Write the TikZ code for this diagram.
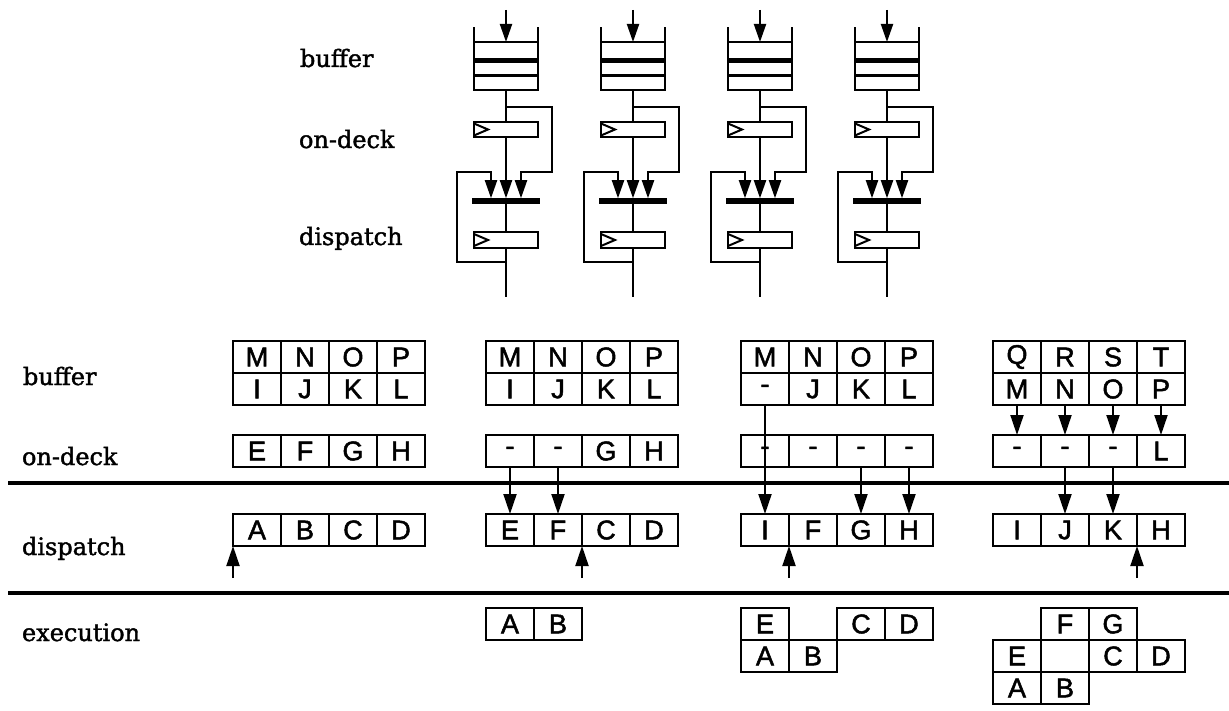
\documentclass[tikz,border=0pt]{standalone}
\usepackage{fontspec}
\setmainfont{DejaVu Serif}
\newfontfamily\labfont[FakeBold=1.6]{DejaVu Serif}
\newfontfamily\cellfont[FakeBold=1.8]{Liberation Sans}
\usetikzlibrary{positioning, arrows.meta, calc}

\begin{document}
\begin{tikzpicture}[
    x=1pt, y=-1pt,
    line width=2pt,
    node distance=0pt, % cells touch each other
    cell/.style={draw, minimum width=48pt, minimum height=32pt, inner sep=0pt,
                 outer sep=0pt, font=\cellfont\fontsize{27}{27}\selectfont},
    reg/.style={draw, minimum width=64pt, minimum height=15.5pt, inner sep=0pt, outer sep=0pt},
    slots/.style={draw, minimum width=64pt, minimum height=48pt, inner sep=0pt, outer sep=0pt},
    bar/.style={fill=black, minimum width=68pt, minimum height=5.5pt, inner sep=0pt, outer sep=0pt},
    lab/.style={anchor=base west, inner sep=0pt, font=\labfont\fontsize{24}{24}\selectfont},
    arr/.style={-{Triangle[length=18pt, width=12pt]}},
    bigarr/.style={-{Triangle[length=20pt, width=13pt]}}
]
    \useasboundingbox (0,0) rectangle (1229,711);

    % labels of the upper part
    \node[lab] (tbuf) at (299,67) {buffer};
    \node[lab] (tod) at (298,148) {on-deck};
    \node[lab] (tdp) at (298,245) {dispatch};

    % the four issue slots
    \foreach \c/\x in {1/506, 2/633, 3/760, 4/887} {
        \node[slots] (buf\c) at (\x,66) {};
        \draw (buf\c.north west) -- ++(0,-15) (buf\c.north east) -- ++(0,-15);
        \draw[line width=5pt] (\x-32,60.5) -- (\x+32,60.5);
        \draw[line width=3.5pt] (\x-32,75.5) -- (\x+32,75.5);
        \node[reg] (od\c) at (\x,129.5) {};
        \draw (od\c.west) ++(0,-6) -- ++(14,6) -- ++(-14,6);
        \node[bar] (bar\c) at (\x,201) {};
        \node[reg] (dp\c) at (\x,240) {};
        \draw (dp\c.west) ++(0,-6) -- ++(14,6) -- ++(-14,6);
        \coordinate (in\c) at (\x,10);
        \coordinate (fork\c) at (\x,107);
        \coordinate (back\c) at (\x,262);
        \coordinate (out\c) at (\x,297);
        \draw[arr] (in\c) -- (buf\c.north);
        \draw (buf\c.south) -- (od\c.north);
        \draw[arr] (od\c.south) -- (bar\c.north);
        \draw (bar\c.south) -- (dp\c.north);
        \draw (dp\c.south) -- (out\c);
        \draw[arr] (fork\c) -| ++(46,65) -| ([xshift=15pt]bar\c.north);
        \draw[arr] (back\c) -| ++(-49,-90) -| ([xshift=-15pt]bar\c.north);
    }

    % labels of the lower part
    \node[lab] (lbuf) at (22,385) {buffer};
    \node[lab] (lod) at (21,465) {on-deck};
    \node[lab] (ldp) at (21,555) {dispatch};
    \node[lab] (lex) at (21,641) {execution};

    % stage separators
    \coordinate (s1a) at (8,483);
    \coordinate (s1b) at (1229,483);
    \coordinate (s2a) at (8,593);
    \coordinate (s2b) at (1229,593);
    \draw[line width=4.5pt] (s1a) -- (s1b);
    \draw[line width=4.5pt] (s2a) -- (s2b);

    % cycle 1
    \node[cell] (bt1_1) at (257,357) {M};
    \node[cell] (bt1_2) [right=of bt1_1] {N};
    \node[cell] (bt1_3) [right=of bt1_2] {O};
    \node[cell] (bt1_4) [right=of bt1_3] {P};
    \node[cell] (bb1_1) [below=of bt1_1] {I};
    \node[cell] (bb1_2) [right=of bb1_1] {J};
    \node[cell] (bb1_3) [right=of bb1_2] {K};
    \node[cell] (bb1_4) [right=of bb1_3] {L};
    \node[cell] (od1_1) at (257,451) {E};
    \node[cell] (od1_2) [right=of od1_1] {F};
    \node[cell] (od1_3) [right=of od1_2] {G};
    \node[cell] (od1_4) [right=of od1_3] {H};
    \node[cell] (dp1_1) at (257,530) {A};
    \node[cell] (dp1_2) [right=of dp1_1] {B};
    \node[cell] (dp1_3) [right=of dp1_2] {C};
    \node[cell] (dp1_4) [right=of dp1_3] {D};
    \coordinate (up1) at ($(dp1_1.south west)+(0,32)$);
    \draw[bigarr] (up1) -- (dp1_1.south west);

    % cycle 2
    \node[cell] (bt2_1) at (510,357) {M};
    \node[cell] (bt2_2) [right=of bt2_1] {N};
    \node[cell] (bt2_3) [right=of bt2_2] {O};
    \node[cell] (bt2_4) [right=of bt2_3] {P};
    \node[cell] (bb2_1) [below=of bt2_1] {I};
    \node[cell] (bb2_2) [right=of bb2_1] {J};
    \node[cell] (bb2_3) [right=of bb2_2] {K};
    \node[cell] (bb2_4) [right=of bb2_3] {L};
    \node[cell] (od2_1) at (510,451) {-};
    \node[cell] (od2_2) [right=of od2_1] {-};
    \node[cell] (od2_3) [right=of od2_2] {G};
    \node[cell] (od2_4) [right=of od2_3] {H};
    \node[cell] (dp2_1) at (510,530) {E};
    \node[cell] (dp2_2) [right=of dp2_1] {F};
    \node[cell] (dp2_3) [right=of dp2_2] {C};
    \node[cell] (dp2_4) [right=of dp2_3] {D};
    \node[cell] (ex2_a) at (510,624) {A};
    \node[cell] (ex2_b) [right=of ex2_a] {B};
    \draw[bigarr] (od2_1) -- (dp2_1);
    \draw[bigarr] (od2_2) -- (dp2_2);
    \coordinate (up2) at ($(dp2_2.south east)+(0,32)$);
    \draw[bigarr] (up2) -- (dp2_2.south east);

    % cycle 3
    \node[cell] (bt3_1) at (765,357) {M};
    \node[cell] (bt3_2) [right=of bt3_1] {N};
    \node[cell] (bt3_3) [right=of bt3_2] {O};
    \node[cell] (bt3_4) [right=of bt3_3] {P};
    \node[cell] (bb3_1) [below=of bt3_1] {-};
    \node[cell] (bb3_2) [right=of bb3_1] {J};
    \node[cell] (bb3_3) [right=of bb3_2] {K};
    \node[cell] (bb3_4) [right=of bb3_3] {L};
    \node[cell] (od3_1) at (765,451) {-};
    \node[cell] (od3_2) [right=of od3_1] {-};
    \node[cell] (od3_3) [right=of od3_2] {-};
    \node[cell] (od3_4) [right=of od3_3] {-};
    \node[cell] (dp3_1) at (765,530) {I};
    \node[cell] (dp3_2) [right=of dp3_1] {F};
    \node[cell] (dp3_3) [right=of dp3_2] {G};
    \node[cell] (dp3_4) [right=of dp3_3] {H};
    \node[cell] (ex3_e) at (765,624) {E};
    \node[cell] (ex3_c) [right=48pt of ex3_e] {C};
    \node[cell] (ex3_d) [right=of ex3_c] {D};
    \node[cell] (ex3_a) [below=of ex3_e] {A};
    \node[cell] (ex3_b) [right=of ex3_a] {B};
    \draw[bigarr] (bb3_1.south) -- (dp3_1.north);
    \draw[bigarr] (od3_3) -- (dp3_3);
    \draw[bigarr] (od3_4) -- (dp3_4);
    \coordinate (up3) at ($(dp3_1.south east)+(0,32)$);
    \draw[bigarr] (up3) -- (dp3_1.south east);

    % cycle 4
    \node[cell] (bt4_1) at (1017,357) {Q};
    \node[cell] (bt4_2) [right=of bt4_1] {R};
    \node[cell] (bt4_3) [right=of bt4_2] {S};
    \node[cell] (bt4_4) [right=of bt4_3] {T};
    \node[cell] (bb4_1) [below=of bt4_1] {M};
    \node[cell] (bb4_2) [right=of bb4_1] {N};
    \node[cell] (bb4_3) [right=of bb4_2] {O};
    \node[cell] (bb4_4) [right=of bb4_3] {P};
    \node[cell] (od4_1) at (1017,451) {-};
    \node[cell] (od4_2) [right=of od4_1] {-};
    \node[cell] (od4_3) [right=of od4_2] {-};
    \node[cell] (od4_4) [right=of od4_3] {L};
    \node[cell] (dp4_1) at (1017,530) {I};
    \node[cell] (dp4_2) [right=of dp4_1] {J};
    \node[cell] (dp4_3) [right=of dp4_2] {K};
    \node[cell] (dp4_4) [right=of dp4_3] {H};
    \node[cell] (ex4_e) at (1017,656) {E};
    \node[cell] (ex4_f) [above right=of ex4_e] {F};
    \node[cell] (ex4_g) [right=of ex4_f] {G};
    \node[cell] (ex4_c) [right=48pt of ex4_e] {C};
    \node[cell] (ex4_d) [right=of ex4_c] {D};
    \node[cell] (ex4_a) [below=of ex4_e] {A};
    \node[cell] (ex4_b) [right=of ex4_a] {B};
    \draw[bigarr] (bb4_1) -- (od4_1);
    \draw[bigarr] (bb4_2) -- (od4_2);
    \draw[bigarr] (bb4_3) -- (od4_3);
    \draw[bigarr] (bb4_4) -- (od4_4);
    \draw[bigarr] (od4_2) -- (dp4_2);
    \draw[bigarr] (od4_3) -- (dp4_3);
    \coordinate (up4) at ($(dp4_3.south east)+(0,32)$);
    \draw[bigarr] (up4) -- (dp4_3.south east);
\end{tikzpicture}
\end{document}
